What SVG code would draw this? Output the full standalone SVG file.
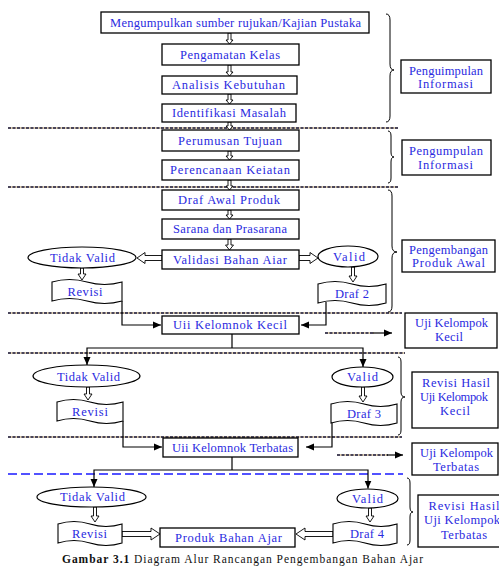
<svg xmlns="http://www.w3.org/2000/svg" width="499" height="570" viewBox="0 0 499 570">
<style>
.box{fill:#fff;stroke:#000;stroke-width:1.3}
.el{fill:#fff;stroke:#000;stroke-width:1.2}
.doc{fill:#fff;stroke:#000;stroke-width:1.1}
.t{font-family:"Liberation Serif","Times New Roman",serif;font-size:12.5px;fill:#2a2ae0;text-anchor:middle}
.cap{font-family:"Liberation Serif","Times New Roman",serif;font-size:11.5px;fill:#111}
.ln{fill:none;stroke:#000;stroke-width:1.2}
.ha{fill:#fff;stroke:#000;stroke-width:0.9}
.brace{fill:none;stroke:#000;stroke-width:1}
.dotA{stroke:#c0a060;stroke-width:1.2}
.dotB{stroke:#1a1a40;stroke-width:1.3;stroke-dasharray:3 1.5}
.dash{stroke:#1a1aff;stroke-width:1.3;stroke-dasharray:9 4}
</style>
<defs>
<marker id="ah" markerWidth="8" markerHeight="8" refX="8" refY="4" orient="auto" markerUnits="userSpaceOnUse">
<path d="M0,0.5 L8,4 L0,7.5 Z" fill="#000"/>
</marker>
</defs>

<g id="separators">
<line class="dotA" x1="8" y1="128" x2="398" y2="128"/><line class="dotB" x1="8" y1="128" x2="398" y2="128"/>
<line class="dotA" x1="8" y1="187" x2="398" y2="187"/><line class="dotB" x1="8" y1="187" x2="398" y2="187"/>
<line class="dotA" x1="8" y1="313" x2="402" y2="313"/><line class="dotB" x1="8" y1="313" x2="402" y2="313"/>
<line class="dotA" x1="8" y1="353" x2="405" y2="353"/><line class="dotB" x1="8" y1="353" x2="405" y2="353"/>
<line class="dotA" x1="8" y1="437" x2="402" y2="437"/><line class="dotB" x1="8" y1="437" x2="402" y2="437"/>
<line class="dash" x1="8" y1="474" x2="403" y2="474"/>
</g>

<g id="braces">
<path class="brace" d="M386,14 Q390,14 390,20 V64 Q390,70 394,70 Q390,70 390,76 V116 Q390,122 386,122"/>
<path class="brace" d="M388,131 Q391,131 391,136 V152 Q391,157 394,157 Q391,157 391,162 V178 Q391,183 388,183"/>
<path class="brace" d="M388,190 Q392,190 392,196 V246 Q392,252 397,252 Q392,252 392,258 V306 Q392,312 388,312"/>
<path class="brace" d="M398,357 Q401,357 401,362 V392 Q401,397 405,397 Q401,397 401,402 V430 Q401,435 398,435"/>
<path class="brace" d="M407,478 Q410,478 410,483 V507 Q410,512 413,512 Q410,512 410,517 V540 Q410,545 407,545"/>
</g>

<g id="connectors">
<path class="ha" d="M228,33 V40 H226 L229.5,44 L233,40 H231 V33 Z"/>
<path class="ha" d="M228,65 V72 H226 L229.5,76 L233,72 H231 V65 Z"/>
<path class="ha" d="M228,94 V100 H226 L229.5,104 L233,100 H231 V94 Z"/>
<path class="ha" d="M228,122 V126 H226 L229.5,130 L233,126 H231 V122 Z"/>
<path class="ha" d="M228,151 V156 H226 L229.5,160 L233,156 H231 V151 Z"/>
<path class="ha" d="M228,180 V186 H226 L229.5,190 L233,186 H231 V180 Z"/>
<path class="ha" d="M228,210 V215 H226 L229.5,219 L233,215 H231 V210 Z"/>
<path class="ha" d="M228,239 V245 H225.5 L229.5,250 L233.5,245 H231 V239 Z"/>
<path class="ha" d="M162,255.5 H145 V252.5 L137,258 L145,263.5 V260.5 H162 Z"/>
<path class="ha" d="M299,255.5 H310 V252.5 L318,258 L310,263.5 V260.5 H299 Z"/>
<path class="ha" d="M80.5,268 V274 H78 L82,280 L86,274 H83.5 V268 Z"/>
<path class="ha" d="M351.5,267 V276 H349 L353,282 L357,276 H354.5 V267 Z"/>
<path class="ha" d="M86.5,387 V394 H84 L88,400 L92,394 H89.5 V387 Z"/>
<path class="ha" d="M361.5,387 V396 H359 L363,402 L367,396 H364.5 V387 Z"/>
<path class="ha" d="M93.5,507 V516 H91 L95,522 L99,516 H96.5 V507 Z"/>
<path class="ha" d="M368.5,508 V516 H366 L370,522 L374,516 H371.5 V508 Z"/>
<path class="ha" d="M122,531.5 H151 V528 L160,534 L151,540 V536.5 H122 Z"/>
<path class="ha" d="M333,531.5 H305 V528 L296,534 L305,540 V536.5 H333 Z"/>
<path class="ln" d="M122,301 V325 H161" marker-end="url(#ah)"/>
<path class="ln" d="M326,302 V325 H301" marker-end="url(#ah)"/>
<path class="ln" d="M232,334 V348"/>
<path class="ln" d="M232,348 H87 V365" marker-end="url(#ah)"/>
<path class="ln" d="M232,348 H363 V367" marker-end="url(#ah)"/>
<path class="ln" d="M123,421 V447 H162" marker-end="url(#ah)"/>
<path class="ln" d="M332,423 V447 H306" marker-end="url(#ah)"/>
<path class="ln" d="M232,457 V470"/>
<path class="ln" d="M232,470 H94 V487" marker-end="url(#ah)"/>
<path class="ln" d="M232,470 H368 V488.5" marker-end="url(#ah)"/>
<line class="dotA" x1="325" y1="333" x2="374" y2="333"/><line class="dotB" x1="325" y1="333" x2="374" y2="333"/>
<path class="ln" d="M373,333 H392" marker-end="url(#ah)"/>
<line class="dotA" x1="337" y1="455" x2="388" y2="455"/><line class="dotB" x1="337" y1="455" x2="388" y2="455"/>
<path class="ln" d="M387,455 H403" marker-end="url(#ah)"/>
</g>

<g id="n-kajian"><rect class="box" x="101" y="12" width="268" height="21"/><text class="t" x="235.5" y="27" textLength="251" lengthAdjust="spacing">Mengumpulkan sumber rujukan/Kajian Pustaka</text></g>
<g id="n-pengamatan"><rect class="box" x="162" y="44" width="137" height="21"/><text class="t" x="230" y="59" textLength="100" lengthAdjust="spacing">Pengamatan Kelas</text></g>
<g id="n-analisis"><rect class="box" x="162" y="76" width="135" height="18"/><text class="t" x="228.5" y="89" textLength="113" lengthAdjust="spacing">Analisis Kebutuhan</text></g>
<g id="n-identifikasi"><rect class="box" x="162" y="104" width="134" height="18"/><text class="t" x="229" y="117" textLength="114" lengthAdjust="spacing">Identifikasi Masalah</text></g>
<g id="n-perumusan"><rect class="box" x="162" y="130" width="137" height="21"/><text class="t" x="230" y="145" textLength="104" lengthAdjust="spacing">Perumusan Tujuan</text></g>
<g id="n-perencanaan"><rect class="box" x="162" y="160" width="137" height="20"/><text class="t" x="230" y="174" textLength="120" lengthAdjust="spacing">Perencanaan Keiatan</text></g>
<g id="n-draf-awal"><rect class="box" x="162" y="190" width="137" height="20"/><text class="t" x="229" y="204" textLength="102" lengthAdjust="spacing">Draf Awal Produk</text></g>
<g id="n-sarana"><rect class="box" x="162" y="219" width="137" height="20"/><text class="t" x="230" y="233" textLength="114" lengthAdjust="spacing">Sarana dan Prasarana</text></g>
<g id="n-validasi"><rect class="box" x="162" y="250" width="137" height="19"/><text class="t" x="230" y="264" textLength="114" lengthAdjust="spacing">Validasi Bahan Aiar</text></g>
<g id="n-tidak-valid-1"><ellipse class="el" cx="82" cy="257.5" rx="54" ry="10.5"/><text class="t" x="82.5" y="261.5" textLength="65" lengthAdjust="spacing">Tidak Valid</text></g>
<g id="n-valid-1"><ellipse class="el" cx="348" cy="256.5" rx="30" ry="10.5"/><text class="t" x="349" y="261" textLength="32" lengthAdjust="spacing">Valid</text></g>
<g id="n-revisi-1"><path class="doc" transform="translate(52,280)" d="M0,2 Q17.5,-3 35,2 T70,2 V21 Q52.5,26 35,21 T0,21 Z"/><text class="t" x="85" y="296" textLength="35" lengthAdjust="spacing">Revisi</text></g>
<g id="n-draf-2"><path class="doc" transform="translate(318,282)" d="M0,2 Q17,-3 34,2 T68,2 V21 Q51,26 34,21 T0,21 Z"/><text class="t" x="352" y="298" textLength="34" lengthAdjust="spacing">Draf 2</text></g>
<g id="n-uji-kecil"><rect class="box" x="162" y="316" width="137" height="18"/><text class="t" x="230" y="329" textLength="114" lengthAdjust="spacing">Uii Kelomnok Kecil</text></g>
<g id="n-tidak-valid-2"><ellipse class="el" cx="86.5" cy="376" rx="53.5" ry="11"/><text class="t" x="88.5" y="380.5" textLength="63" lengthAdjust="spacing">Tidak Valid</text></g>
<g id="n-valid-2"><ellipse class="el" cx="362.5" cy="377" rx="30.5" ry="10"/><text class="t" x="362.5" y="381" textLength="31" lengthAdjust="spacing">Valid</text></g>
<g id="n-revisi-2"><path class="doc" transform="translate(57,400)" d="M0,2 Q16.5,-3 33,2 T66,2 V21 Q49.5,26 33,21 T0,21 Z"/><text class="t" x="90" y="416" textLength="36" lengthAdjust="spacing">Revisi</text></g>
<g id="n-draf-3"><path class="doc" transform="translate(331,402)" d="M0,2 Q16.5,-3 33,2 T66,2 V21 Q49.5,26 33,21 T0,21 Z"/><text class="t" x="364" y="418" textLength="34" lengthAdjust="spacing">Draf 3</text></g>
<g id="n-uji-terbatas"><rect class="box" x="163" y="438" width="135" height="19"/><text class="t" x="232.5" y="452" textLength="121" lengthAdjust="spacing">Uii Kelomnok Terbatas</text></g>
<g id="n-tidak-valid-3"><ellipse class="el" cx="91.5" cy="497" rx="54.5" ry="10"/><text class="t" x="92.5" y="501" textLength="65" lengthAdjust="spacing">Tidak Valid</text></g>
<g id="n-valid-3"><ellipse class="el" cx="367.5" cy="498.5" rx="30.5" ry="9.5"/><text class="t" x="367.5" y="502.5" textLength="31" lengthAdjust="spacing">Valid</text></g>
<g id="n-revisi-3"><path class="doc" transform="translate(58,522)" d="M0,2 Q16,-3 32,2 T64,2 V21 Q48,26 32,21 T0,21 Z"/><text class="t" x="89.5" y="538" textLength="35" lengthAdjust="spacing">Revisi</text></g>
<g id="n-draf-4"><path class="doc" transform="translate(333,522)" d="M0,2 Q16,-3 32,2 T64,2 V21 Q48,26 32,21 T0,21 Z"/><text class="t" x="367" y="538" textLength="34" lengthAdjust="spacing">Draf 4</text></g>
<g id="n-produk"><rect class="box" x="160" y="528" width="135" height="19"/><text class="t" x="228.5" y="542" textLength="107" lengthAdjust="spacing">Produk Bahan Ajar</text></g>

<g id="l-informasi-1"><rect class="box" x="401" y="60" width="90" height="33"/><text class="t" x="446" y="75" textLength="74" lengthAdjust="spacing">Penguimpulan</text><text class="t" x="445.5" y="88" textLength="55" lengthAdjust="spacing">Informasi</text></g>
<g id="l-informasi-2"><rect class="box" x="402" y="140" width="89" height="35"/><text class="t" x="446" y="155" textLength="74" lengthAdjust="spacing">Pengumpulan</text><text class="t" x="445.5" y="169" textLength="55" lengthAdjust="spacing">Informasi</text></g>
<g id="l-pengembangan"><rect class="box" x="402" y="240" width="93" height="32"/><text class="t" x="448.5" y="254" textLength="79" lengthAdjust="spacing">Pengembangan</text><text class="t" x="448.5" y="267" textLength="73" lengthAdjust="spacing">Produk Awal</text></g>
<g id="l-uji-kecil"><rect class="box" x="405" y="313" width="92" height="35"/><text class="t" x="451.5" y="327" textLength="73" lengthAdjust="spacing">Uji Kelompok</text><text class="t" x="449" y="341" textLength="28" lengthAdjust="spacing">Kecil</text></g>
<g id="l-revisi-kecil"><rect class="box" x="412" y="372" width="86" height="56"/><text class="t" x="456" y="387" textLength="68" lengthAdjust="spacing">Revisi Hasil</text><text class="t" x="454" y="401" textLength="68" lengthAdjust="spacing">Uji Kelompok</text><text class="t" x="455" y="415" textLength="30" lengthAdjust="spacing">Kecil</text></g>
<g id="l-uji-terbatas"><rect class="box" x="412" y="443" width="86" height="32"/><text class="t" x="456.5" y="457" textLength="73" lengthAdjust="spacing">Uji Kelompok</text><text class="t" x="456" y="471" textLength="46" lengthAdjust="spacing">Terbatas</text></g>
<g id="l-revisi-terbatas"><rect class="box" x="418" y="495" width="92" height="52"/><text class="t" x="464" y="510" textLength="71" lengthAdjust="spacing">Revisi Hasil</text><text class="t" x="462" y="524" textLength="76" lengthAdjust="spacing">Uji Kelompok</text><text class="t" x="464" y="539" textLength="46" lengthAdjust="spacing">Terbatas</text></g>

<g id="caption"><text class="cap" x="62" y="563" textLength="361" lengthAdjust="spacing"><tspan font-weight="bold">Gambar 3.1</tspan> Diagram Alur  Rancangan Pengembangan Bahan Ajar</text></g>
</svg>
